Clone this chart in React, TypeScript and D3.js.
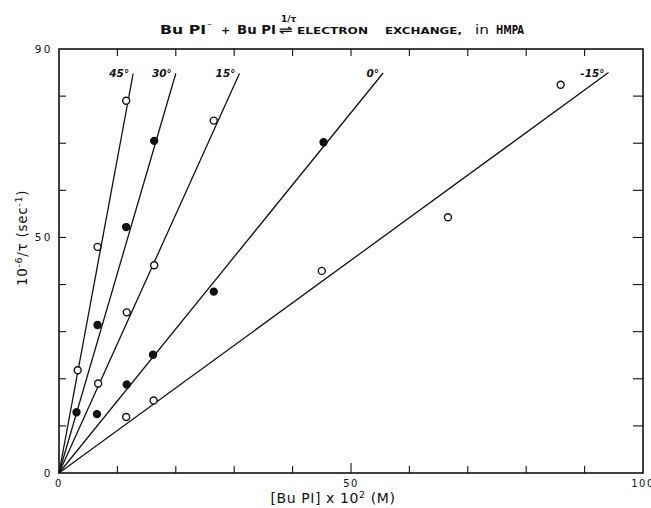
import React from "react";
import * as d3 from "d3";

// ---- data ----
const temps = ["45°", "30°", "15°", "0°", "-15°"];
const filledMarker = [false, true, false, true, false];

const conc45 = [3.2, 6.6, 11.5];
const rate45 = [21.8, 48.0, 79.0];
const conc30 = [3.0, 6.6, 11.5, 16.3];
const rate30 = [12.9, 31.4, 52.2, 70.5];
const conc15 = [6.7, 11.6, 16.3, 26.5];
const rate15 = [19.0, 34.1, 44.1, 74.8];
const conc0 = [6.5, 11.6, 16.1, 26.5, 45.3];
const rate0 = [12.5, 18.8, 25.1, 38.5, 70.2];
const concM15 = [11.5, 16.2, 45.0, 66.6, 85.9];
const rateM15 = [11.9, 15.4, 42.9, 54.3, 82.4];

// fitted lines through the origin: upper end points
const lineEndX = [12.7, 20.0, 30.9, 55.5, 94.1];
const lineEndY = [84.8, 84.8, 84.8, 84.9, 85.0];

const xTickValues = [10, 20, 30, 40, 50, 60, 70, 80, 90];
const yTickValues = [10, 20, 30, 40, 50, 60, 70, 80];
const xTickLabels = [0, 50, 100];
const yTickLabels = [0, 50, 90];

const concs = [conc45, conc30, conc15, conc0, concM15];
const rates = [rate45, rate30, rate15, rate0, rateM15];

export default function App() {
  const W = 651, H = 508;
  const x = d3.scaleLinear().domain([0, 100]).range([59, 643]);
  const y = d3.scaleLinear().domain([0, 90]).range([473, 49]);
  const line = d3.line<[number, number]>().x(d => x(d[0])).y(d => y(d[1]));
  const ink = "#111";
  const font = "'DejaVu Sans', 'Liberation Sans', sans-serif";
  const tick = 7;
  const sg = "spacingAndGlyphs";

  return (
    <svg width={W} height={H} style={{ position: "absolute", left: 0, top: 0, background: "#fff" }}
      fontFamily={font}>
      <rect x={0} y={0} width={W} height={H} fill="#fff" />
      {/* frame */}
      <rect x={x(0)} y={y(90)} width={x(100) - x(0)} height={y(0) - y(90)}
        fill="none" stroke={ink} strokeWidth={1.6} />
      {/* ticks */}
      {xTickValues.map(v => (
        <g key={"xt" + v}>
          <line x1={x(v)} x2={x(v)} y1={y(0)} y2={y(0) - (v === 50 ? 10 : tick)} stroke={ink} strokeWidth={1.1} />
          <line x1={x(v)} x2={x(v)} y1={y(90)} y2={y(90) + tick} stroke={ink} strokeWidth={1.1} />
        </g>
      ))}
      {yTickValues.map(v => (
        <g key={"yt" + v}>
          <line x1={x(0)} x2={x(0) + tick} y1={y(v)} y2={y(v)} stroke={ink} strokeWidth={1.1} />
          <line x1={x(100)} x2={x(100) - 10} y1={y(v)} y2={y(v)} stroke={ink} strokeWidth={1.1} />
        </g>
      ))}
      {/* tick labels */}
      {xTickLabels.map(v => (
        <text key={"xl" + v} x={x(v)} y={487} textAnchor="middle" fontSize={10}
          letterSpacing={1.5} fill={ink}>{v}</text>
      ))}
      {yTickLabels.map(v => (
        <text key={"yl" + v} x={53} y={y(v) + 4} textAnchor="end" fontSize={10.5}
          letterSpacing={2.5} fill={ink}>{v}</text>
      ))}
      {/* fitted lines */}
      {lineEndX.map((ex, i) => (
        <path key={"ln" + i} d={line([[0, 0], [ex, lineEndY[i]]]) || ""} fill="none"
          stroke={ink} strokeWidth={1.3} />
      ))}
      {/* line labels */}
      {temps.map((t, i) => (
        <text key={"lab" + i} x={x(lineEndX[i]) - 4} y={y(lineEndY[i]) + 4} textAnchor="end"
          fontSize={10.5} fontStyle="italic" fontWeight="bold" fill={ink}>{t}</text>
      ))}
      {/* points */}
      {concs.map((cs, i) => cs.map((c, j) => (
        <circle key={"p" + i + "-" + j} cx={x(c)} cy={y(rates[i][j])} r={3.5}
          fill={filledMarker[i] ? ink : "#fff"} stroke={ink} strokeWidth={1.4} />
      )))}
      {/* title */}
      <g fill={ink} fontWeight="bold">
        <text x={160} y={34} fontSize={13} textLength={46} lengthAdjust={sg}>Bu PI</text>
        <text x={207} y={29} fontSize={9}>⁻</text>
        <text x={221} y={34} fontSize={11}>+</text>
        <text x={237} y={34} fontSize={13} textLength={39} lengthAdjust={sg}>Bu PI</text>
        <text x={279} y={34} fontSize={12} textLength={14} lengthAdjust={sg}>⇌</text>
        <text x={281} y={22} fontSize={9}>1/τ</text>
        <text x={297} y={34} fontSize={9.5} textLength={71} lengthAdjust={sg}>ELECTRON</text>
        <text x={385} y={34} fontSize={9.5} textLength={77} lengthAdjust={sg}>EXCHANGE,</text>
        <text x={475} y={34} fontSize={13} fontWeight="normal" textLength={14} lengthAdjust={sg}>in</text>
        <text x={496} y={34} fontSize={13} textLength={28} lengthAdjust={sg}>HMPA</text>
      </g>
      {/* y axis label */}
      <text transform="translate(27,238) rotate(-90)" textAnchor="middle" fontSize={13.5}
        letterSpacing={0.7} fill={ink}>
        10<tspan dy={-5} fontSize={9.5}>-6</tspan><tspan dy={5}>/τ  (sec</tspan><tspan dy={-5} fontSize={9.5}>-1</tspan><tspan dy={5}>)</tspan>
      </text>
      {/* x axis label */}
      <text x={333} y={503} textAnchor="middle" fontSize={14} letterSpacing={0.6} fill={ink}>
        [Bu PI]  x  10<tspan dy={-5} fontSize={9.5}>2</tspan><tspan dy={5}>   (M)</tspan>
      </text>
    </svg>
  );
}
